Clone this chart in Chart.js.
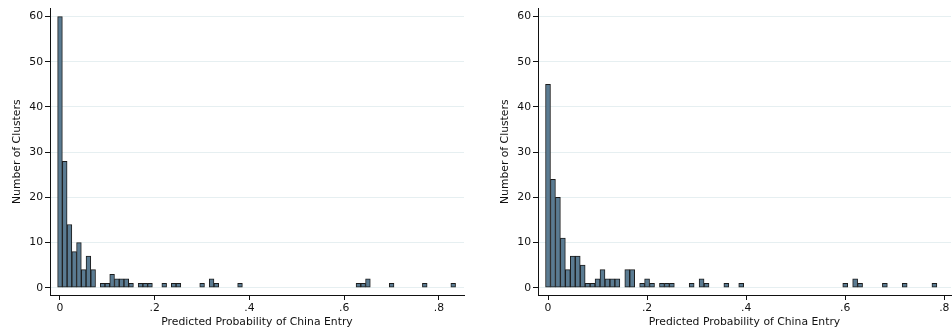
<!DOCTYPE html>
<html>
<head>
<meta charset="utf-8">
<script src="https://cdn.jsdelivr.net/npm/chart.js@4/dist/chart.umd.min.js"></script>
<style>
  body { margin: 0; background: #fff; }
  .panel { position: absolute; top: 0; width: 476px; height: 331px; }
  #left { left: 0; }
  #right { left: 476px; }
</style>
</head>
<body>
<div class="panel" id="left"><canvas id="chartA"></canvas></div>
<div class="panel" id="right"><canvas id="chartB"></canvas></div>
<script>
// bin centres (predicted probability) and cluster counts
const probsA = [0, .01, .02, .03, .04, .05, .06, .07, .09, .10, .11, .12, .13, .14, .15,
                .17, .18, .19, .22, .24, .25, .30, .32, .33, .38, .63, .64, .65, .70, .77, .83];
const countsA = [60, 28, 14, 8, 10, 4, 7, 4, 1, 1, 3, 2, 2, 2, 1,
                 1, 1, 1, 1, 1, 1, 1, 2, 1, 1, 1, 1, 2, 1, 1, 1];

const probsB = [0, .01, .02, .03, .04, .05, .06, .07, .08, .09, .10, .11, .12, .13, .14,
                .16, .17, .19, .20, .21, .23, .24, .25, .29, .31, .32, .36, .39,
                .60, .62, .63, .68, .72, .78];
const countsB = [45, 24, 20, 11, 4, 7, 7, 5, 1, 1, 2, 4, 2, 2, 2,
                 4, 4, 1, 2, 1, 1, 1, 1, 1, 2, 1, 1, 1,
                 1, 2, 1, 1, 1, 1];

const xTicks = [0, .2, .4, .6, .8];
const yTicks = [0, 10, 20, 30, 40, 50, 60];

Chart.defaults.font.family = 'DejaVu Sans';
Chart.defaults.font.size = 10.8;
Chart.defaults.color = '#111';

function makeChart(id, probs, counts, xMin, xMax, padLeft, padRight) {
  const points = probs.map((p, i) => ({ x: p, y: counts[i] }));
  return new Chart(document.getElementById(id), {
    type: 'bar',
    data: {
      datasets: [{
        data: points,
        backgroundColor: '#5a7b92',
        borderColor: '#1c1c1c',
        borderWidth: 1,
        borderSkipped: false,
        barPercentage: 1,
        categoryPercentage: 1
      }]
    },
    options: {
      responsive: true,
      maintainAspectRatio: false,
      animation: false,
      layout: { padding: { left: padLeft, right: padRight, top: 7, bottom: 0 } },
      plugins: { legend: { display: false }, tooltip: { enabled: false } },
      scales: {
        x: {
          type: 'linear',
          min: xMin,
          max: xMax,
          offset: false,
          afterBuildTicks: axis => { axis.ticks = xTicks.map(v => ({ value: v })); },
          afterFit: axis => { axis.height = 36; },
          ticks: {
            padding: 2,
            maxRotation: 0,
            callback: v => v === 0 ? '0' : String(v).replace(/^0/, '')
          },
          grid: { drawOnChartArea: false, drawTicks: true, tickLength: 5, tickColor: '#111', offset: false },
          border: { display: true, color: '#111', width: 1 },
          title: { display: true, text: 'Predicted Probability of China Entry', padding: { top: 0, bottom: 2.5 } }
        },
        y: {
          min: -1.6,
          max: 61.8,
          afterBuildTicks: axis => { axis.ticks = yTicks.map(v => ({ value: v })); },
          afterFit: axis => { axis.width = 50; },
          ticks: { padding: 2 },
          grid: { color: '#e6eff1', lineWidth: 1, drawTicks: true, tickLength: 5, tickColor: '#111' },
          border: { display: true, color: '#111', width: 1 },
          title: { display: true, text: 'Number of Clusters', padding: { top: 10.5, bottom: 0 } }
        }
      }
    }
  });
}

makeChart('chartA', probsA, countsA, -0.0211, 0.8528, 0, 12);
makeChart('chartB', probsB, countsB, -0.0202, 0.8135, 12, 1);
</script>
</body>
</html>
